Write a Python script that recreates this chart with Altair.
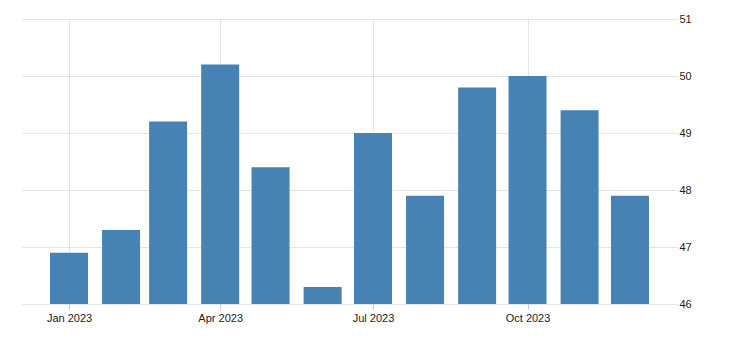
import altair as alt
import pandas as pd

months = ["2023-01-01T00:00:00", "2023-02-01T00:00:00", "2023-03-01T00:00:00",
          "2023-04-01T00:00:00", "2023-05-01T00:00:00", "2023-06-01T00:00:00",
          "2023-07-01T00:00:00", "2023-08-01T00:00:00", "2023-09-01T00:00:00",
          "2023-10-01T00:00:00", "2023-11-01T00:00:00", "2023-12-01T00:00:00"]
values = [46.9, 47.3, 49.2, 50.2, 48.4, 46.3, 49.0, 47.9, 49.8, 50.0, 49.4, 47.9]
y_ticks = [46, 47, 48, 49, 50, 51]

df = pd.DataFrame({"date": months, "value": values})

x_ticks = [alt.DateTime(year=2023, month=m, date=1) for m in (1, 4, 7, 10)]

chart = alt.Chart(df).mark_bar(width=38, color="#4682B4", clip=True).encode(
    x=alt.X("date:T",
            scale=alt.Scale(domain=[alt.DateTime(year=2022, month=12, date=4),
                                    alt.DateTime(year=2023, month=12, date=29)],
                            padding=0),
            axis=alt.Axis(values=x_ticks, format="%b %Y", title=None,
                          grid=True, gridColor="#c8c8c8", gridDash=[1, 1],
                          domain=False, tickColor="#c8c8c8", tickSize=5,
                          labelPadding=3, labelFontSize=11, labelColor="#222222",
                          labelFont="Liberation Sans")),
    y=alt.Y("value:Q",
            scale=alt.Scale(domain=[46, 51], nice=False, zero=False),
            axis=alt.Axis(orient="right", values=y_ticks, title=None,
                          grid=True, gridColor="#c8c8c8", gridDash=[1, 1],
                          domain=False, ticks=False, labelPadding=2,
                          labelFontSize=11, labelColor="#222222",
                          labelFont="Liberation Sans")),
).properties(
    width=655, height=285,
    autosize=alt.AutoSizeParams(type="none"),
    padding={"left": 22, "top": 19, "right": 52, "bottom": 47},
).configure_view(stroke=None)

chart.save("out.html", embed_options={"renderer": "svg", "actions": False})
